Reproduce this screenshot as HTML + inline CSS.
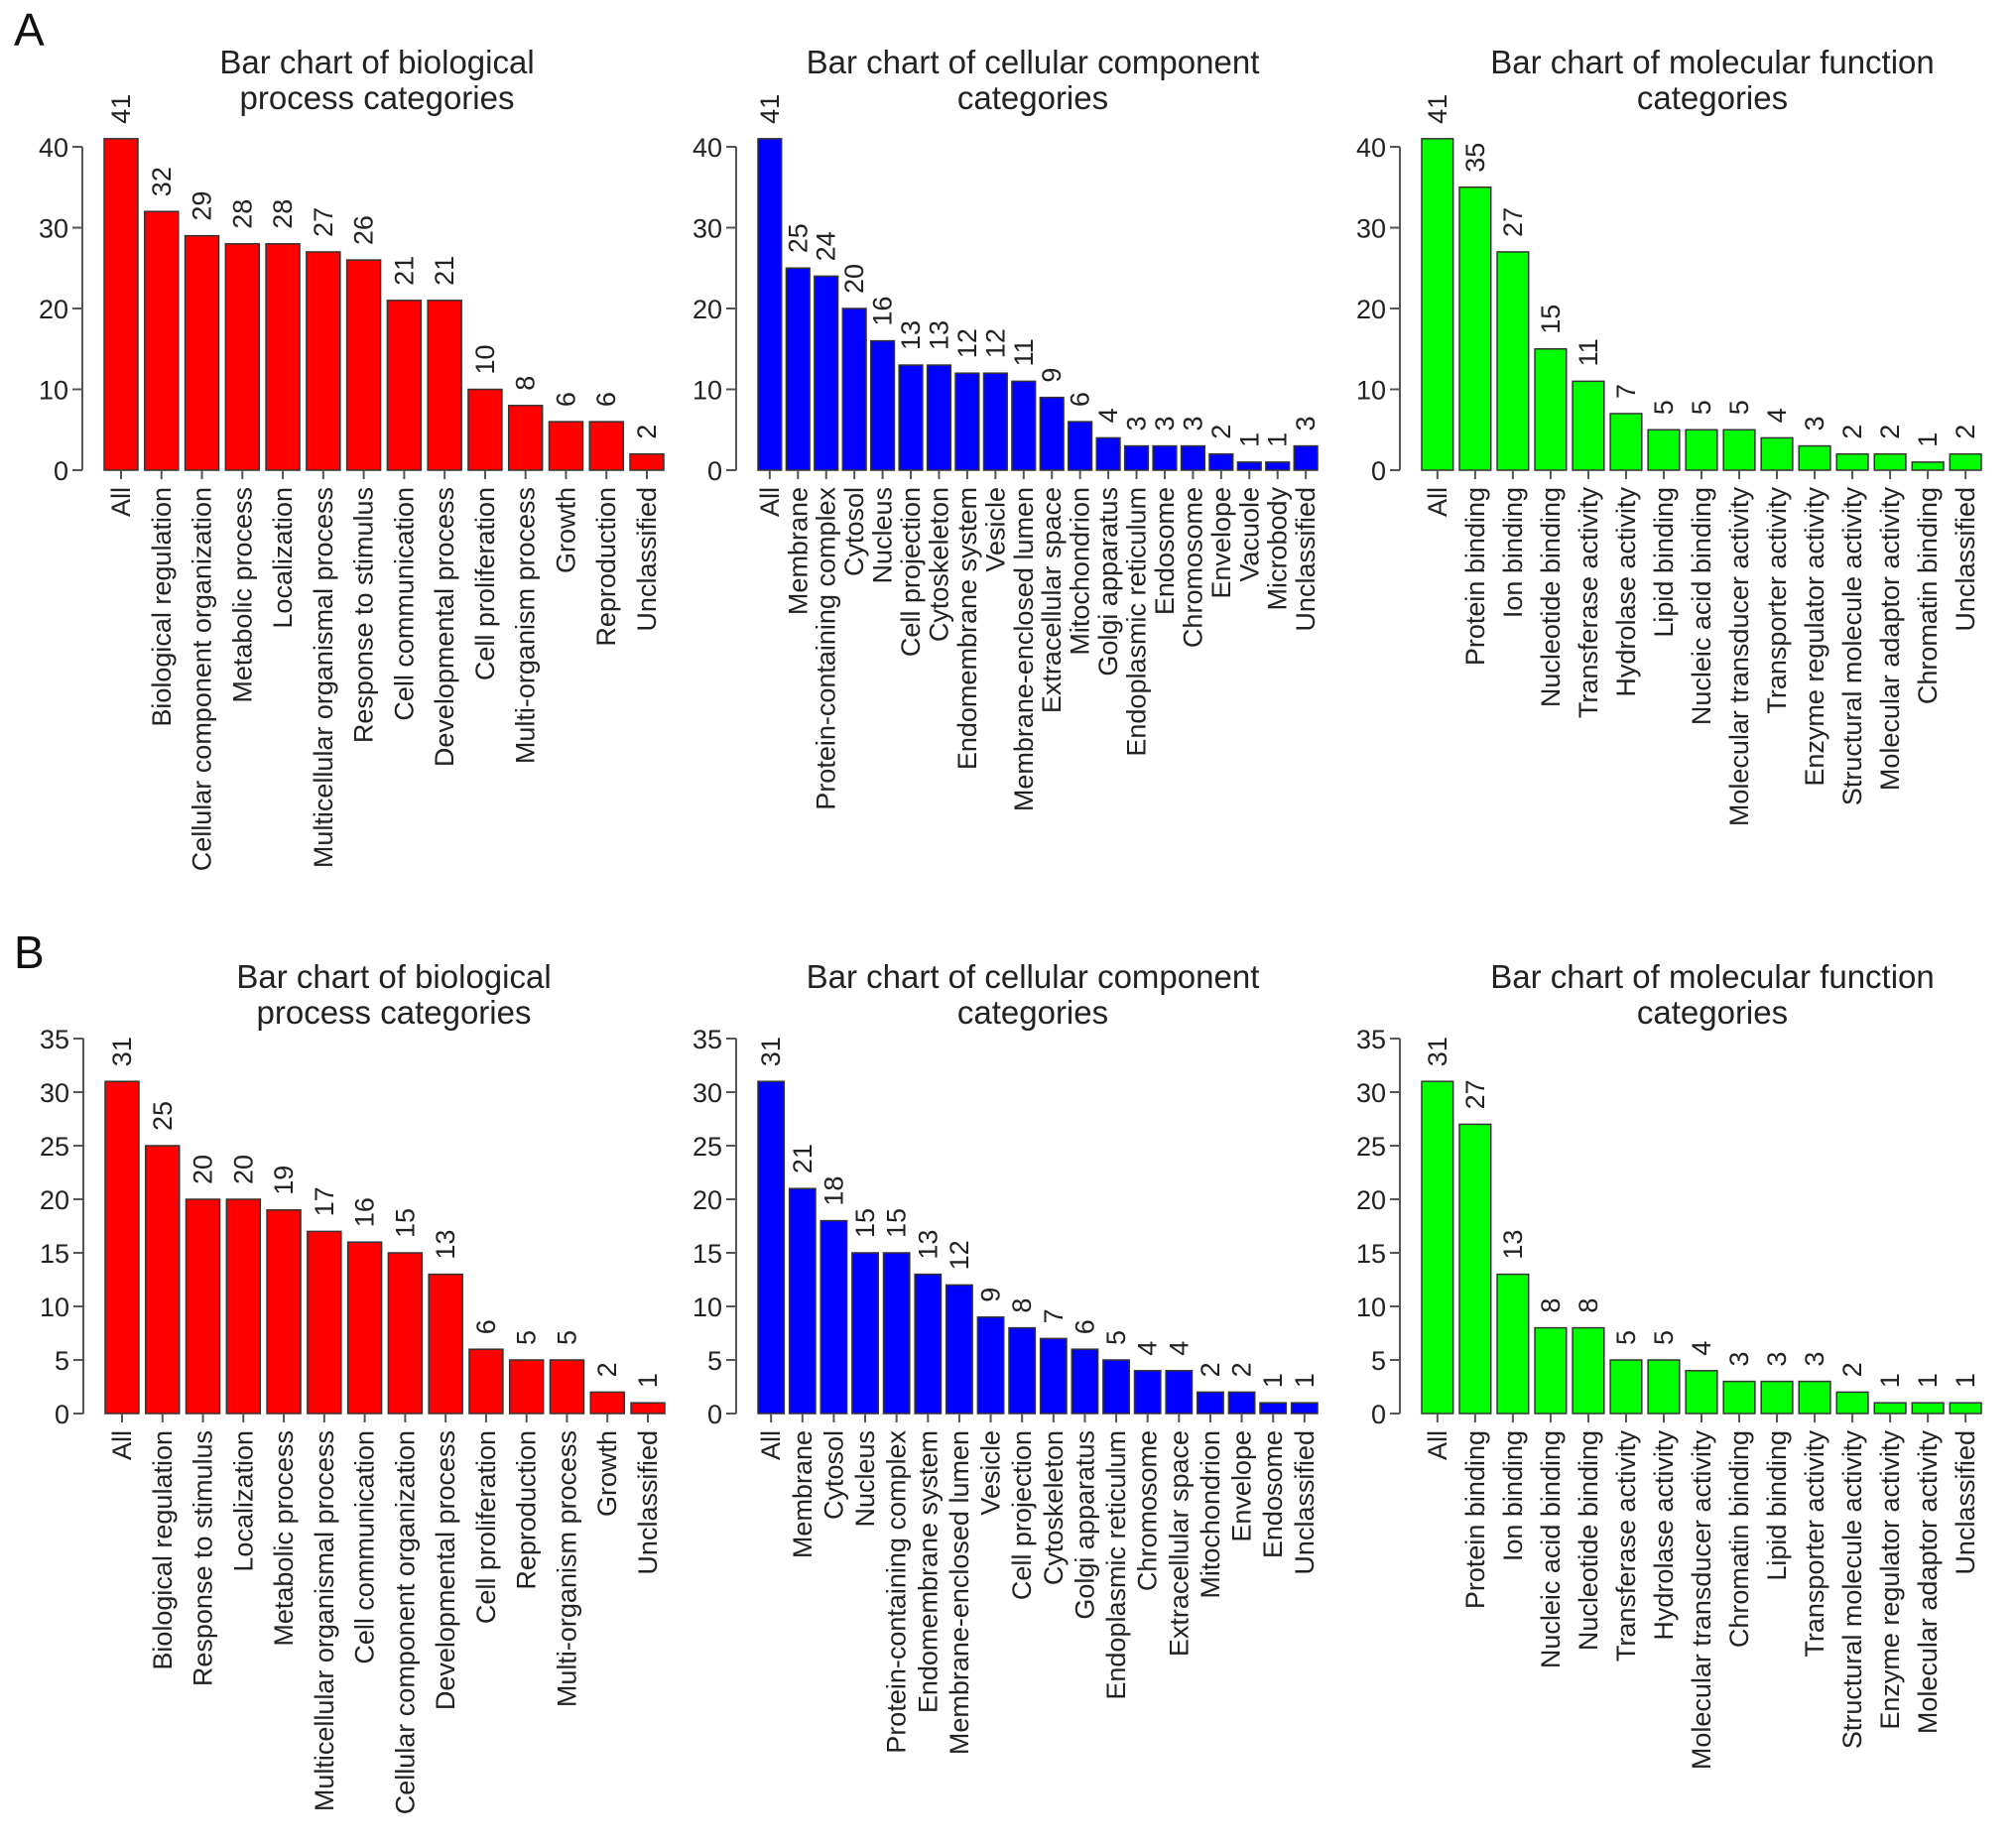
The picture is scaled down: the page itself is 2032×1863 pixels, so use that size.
<!DOCTYPE html>
<html><head><meta charset="utf-8"><style>
html,body{margin:0;padding:0;background:#fff;}
svg{display:block;font-family:"Liberation Sans",Arial,sans-serif;}
</style></head><body>
<svg id="fig" width="2032" height="1863" viewBox="0 0 2032 1863">
<text x="14" y="46" font-size="46" fill="#111">A</text>
<text x="14" y="976" font-size="46" fill="#111">B</text>
</svg>
<script>
// ---- Panel A data ----
const aBpCategories = ["All","Biological regulation","Cellular component organization","Metabolic process","Localization","Multicellular organismal process","Response to stimulus","Cell communication","Developmental process","Cell proliferation","Multi-organism process","Growth","Reproduction","Unclassified"];
const aBpValues = [41,32,29,28,28,27,26,21,21,10,8,6,6,2];
const aCcCategories = ["All","Membrane","Protein-containing complex","Cytosol","Nucleus","Cell projection","Cytoskeleton","Endomembrane system","Vesicle","Membrane-enclosed lumen","Extracellular space","Mitochondrion","Golgi apparatus","Endoplasmic reticulum","Endosome","Chromosome","Envelope","Vacuole","Microbody","Unclassified"];
const aCcValues = [41,25,24,20,16,13,13,12,12,11,9,6,4,3,3,3,2,1,1,3];
const aMfCategories = ["All","Protein binding","Ion binding","Nucleotide binding","Transferase activity","Hydrolase activity","Lipid binding","Nucleic acid binding","Molecular transducer activity","Transporter activity","Enzyme regulator activity","Structural molecule activity","Molecular adaptor activity","Chromatin binding","Unclassified"];
const aMfValues = [41,35,27,15,11,7,5,5,5,4,3,2,2,1,2];
const aTicks = [0,10,20,30,40];
// ---- Panel B data ----
const bBpCategories = ["All","Biological regulation","Response to stimulus","Localization","Metabolic process","Multicellular organismal process","Cell communication","Cellular component organization","Developmental process","Cell proliferation","Reproduction","Multi-organism process","Growth","Unclassified"];
const bBpValues = [31,25,20,20,19,17,16,15,13,6,5,5,2,1];
const bCcCategories = ["All","Membrane","Cytosol","Nucleus","Protein-containing complex","Endomembrane system","Membrane-enclosed lumen","Vesicle","Cell projection","Cytoskeleton","Golgi apparatus","Endoplasmic reticulum","Chromosome","Extracellular space","Mitochondrion","Envelope","Endosome","Unclassified"];
const bCcValues = [31,21,18,15,15,13,12,9,8,7,6,5,4,4,2,2,1,1];
const bMfCategories = ["All","Protein binding","Ion binding","Nucleic acid binding","Nucleotide binding","Transferase activity","Hydrolase activity","Molecular transducer activity","Chromatin binding","Lipid binding","Transporter activity","Structural molecule activity","Enzyme regulator activity","Molecular adaptor activity","Unclassified"];
const bMfValues = [31,27,13,8,8,5,5,4,3,3,3,2,1,1,1];
const bTicks = [0,5,10,15,20,25,30,35];

const NS = "http://www.w3.org/2000/svg";
const svg = document.getElementById('fig');
function mk(tag, attrs, parent){
  const e = document.createElementNS(NS, tag);
  for (const k in attrs) e.setAttribute(k, attrs[k]);
  (parent||svg).appendChild(e);
  return e;
}

function panel(key, title, cats, vals, ticks, color, axisX, y0, yMaxPx, titleY, titleOff){
  const g = mk('g', {});
  
  
  const tmax = ticks[ticks.length-1];
  const yScale = v => y0 - (v / tmax) * (y0 - yMaxPx);
  const plotLeft = axisX + 22, plotW = 564;
  const n = cats.length;
  const w = plotW / (n * 1.2 - 0.2);
  const xBar = i => plotLeft + i * 1.2 * w;
  const cx = plotLeft + plotW / 2 + titleOff;
  title.forEach((line, k) => {
    const t = mk('text', {x: cx, y: titleY + k * 36, 'font-size': 33, 'text-anchor': 'middle', fill: '#222'}, g);
    t.textContent = line;
    
    
  });
  const ax = mk('line', {x1: axisX, x2: axisX, y1: y0, y2: yScale(tmax), stroke: '#555', 'stroke-width': 2}, g);
  
  
  ticks.forEach(tv => {
    const y = yScale(tv);
    const tl = mk('line', {x1: axisX - 10, x2: axisX, y1: y, y2: y, stroke: '#555', 'stroke-width': 2}, g);
    
    
    const tt = mk('text', {x: axisX - 14, y: y + 10, 'font-size': 27, 'text-anchor': 'end', fill: '#222'}, g);
    tt.textContent = tv;
    
    
  });
  vals.forEach((v, i) => {
    const x = xBar(i), yt = yScale(v);
    const r = mk('rect', {x: x, y: yt, width: w, height: y0 - yt, fill: color, stroke: '#333', 'stroke-width': 1.5}, g);
    
    
    const bc = x + w / 2;
    const vl = mk('text', {x: 0, y: 0, 'font-size': 27, 'text-anchor': 'start', 'dominant-baseline': 'central', fill: '#222',
      transform: 'translate(' + bc + ',' + (yt - 15) + ') rotate(-90)'}, g);
    vl.textContent = v;
    
    
    const tk = mk('line', {x1: bc, x2: bc, y1: y0, y2: y0 + 9, stroke: '#555', 'stroke-width': 2}, g);
    
    
    const cl = mk('text', {x: 0, y: 0, 'font-size': 27, 'text-anchor': 'end', 'dominant-baseline': 'central', fill: '#222',
      transform: 'translate(' + bc + ',' + (y0 + 17) + ') rotate(-90)'}, g);
    cl.textContent = cats[i];
    
    
  });
}

panel('a-biological-process', ['Bar chart of biological','process categories'], aBpCategories, aBpValues, aTicks, '#ff0000', 83, 474, 148, 74, -7);
panel('a-cellular-component', ['Bar chart of cellular component','categories'], aCcCategories, aCcValues, aTicks, '#0000ff', 742, 474, 148, 74, -5);
panel('a-molecular-function', ['Bar chart of molecular function','categories'], aMfCategories, aMfValues, aTicks, '#00ff00', 1411, 474, 148, 74, 11);
panel('b-biological-process', ['Bar chart of biological','process categories'], bBpCategories, bBpValues, bTicks, '#ff0000', 84, 1425, 1047, 996, 9);
panel('b-cellular-component', ['Bar chart of cellular component','categories'], bCcCategories, bCcValues, bTicks, '#0000ff', 742, 1425, 1047, 996, -5);
panel('b-molecular-function', ['Bar chart of molecular function','categories'], bMfCategories, bMfValues, bTicks, '#00ff00', 1411, 1425, 1047, 996, 11);
</script>
</body></html>
